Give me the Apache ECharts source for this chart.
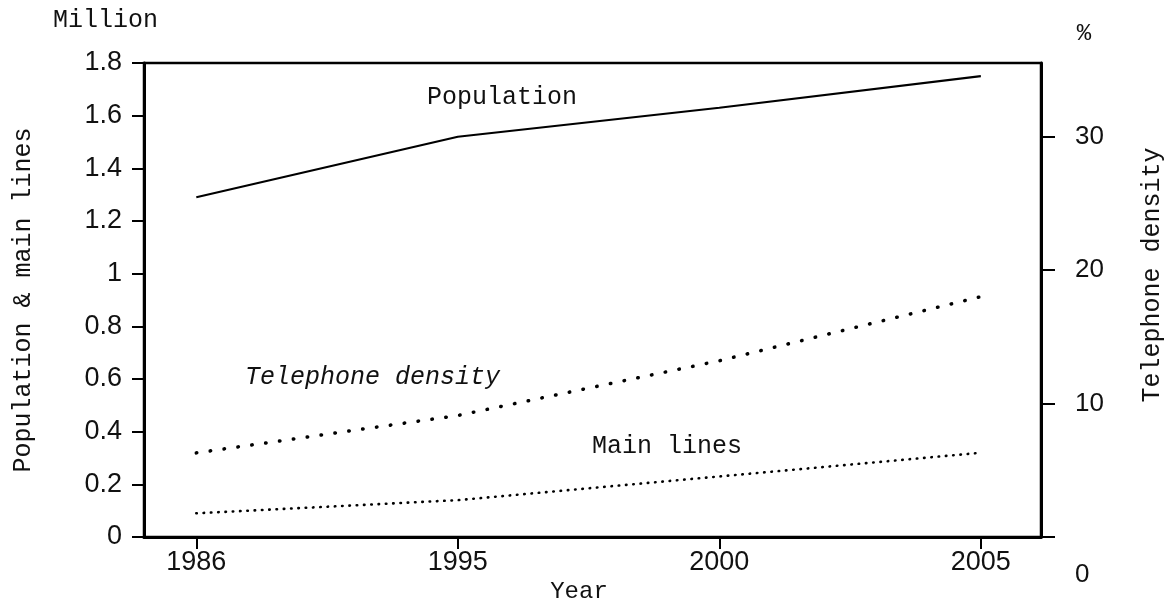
<!DOCTYPE html>
<html><head><meta charset="utf-8">
<script src="https://cdn.jsdelivr.net/npm/echarts@6/dist/echarts.min.js"></script>
<style>html,body{margin:0;padding:0;background:#fff}#c{width:1176px;height:616px}</style>
</head><body><div id="c"></div>
<script>
// ---- data ----
const years = ['1986', '1995', '2000', '2005'];
const population = [1.29, 1.52, 1.63, 1.75];   // million
const mainLines = [0.09, 0.14, 0.23, 0.32];    // million
const density = [6.3, 9.1, 13.2, 18.0];        // %
const leftTicks = [0, 0.2, 0.4, 0.6, 0.8, 1, 1.2, 1.4, 1.6, 1.8];
const rightTicks = [0, 10, 20, 30];

const pts = arr => arr.map((v, i) => [i, v]);
const mono = "'Liberation Mono', 'DejaVu Sans Mono', monospace";
const narrow = "'Liberation Sans Narrow', 'Liberation Sans', Arial, sans-serif";
const sans = "'Liberation Sans', Arial, sans-serif";

const chart = echarts.init(document.getElementById('c'), null, {renderer: 'canvas'});
chart.setOption({
  backgroundColor: '#ffffff',
  animation: false,
  grid: {left: 144, right: 135, top: 63, bottom: 79, show: true, borderColor: '#000', borderWidth: 2.5, backgroundColor: 'transparent'},
  xAxis: {
    type: 'value', min: -0.2, max: 3.23,
    splitLine: {show: false},
    axisLine: {show: true, onZero: false, lineStyle: {color: '#000', width: 3}},
    axisTick: {show: true, customValues: years.map((y, i) => i), length: 12, lineStyle: {color: '#000', width: 2}},
    axisLabel: {customValues: years.map((y, i) => i), formatter: v => years[Math.round(v)] || '', margin: 12,
      fontFamily: narrow, fontSize: 27, color: '#111'}
  },
  yAxis: [{
    type: 'value', min: 0, max: 1.8, position: 'left',
    splitLine: {show: false},
    axisLine: {show: true, onZero: false, lineStyle: {color: '#000', width: 3}},
    axisTick: {show: true, customValues: leftTicks, length: 12, lineStyle: {color: '#000', width: 2}},
    axisLabel: {customValues: leftTicks, margin: 22, fontFamily: narrow, fontSize: 27, color: '#111',
      formatter: v => String(Math.round(v * 10) / 10)}
  }, {
    type: 'value', min: 0, max: 35.5, position: 'right',
    splitLine: {show: false},
    axisLine: {show: true, onZero: false, lineStyle: {color: '#000', width: 3}},
    axisTick: {show: true, customValues: rightTicks, length: 14, lineStyle: {color: '#000', width: 2}},
    axisLabel: {customValues: rightTicks, margin: 34, fontFamily: sans, fontSize: 26, color: '#111',
      formatter: v => v === 0 ? '{z|0}' : String(v),
      rich: {z: {padding: [76, 0, 0, 0], fontFamily: sans, fontSize: 26, color: '#111'}}}
  }],
  series: [{
    name: 'Population', type: 'line', yAxisIndex: 0, data: pts(population),
    symbol: 'none', lineStyle: {color: '#000', width: 2.2}
  }, {
    name: 'Telephone density', type: 'line', yAxisIndex: 1, data: pts(density),
    symbol: 'none', lineStyle: {color: '#000', width: 3.5, type: [0.5, 13.5], cap: 'round'}
  }, {
    name: 'Main lines', type: 'line', yAxisIndex: 0, data: pts(mainLines),
    symbol: 'none', lineStyle: {color: '#000', width: 2.6, type: [0.5, 6.8], cap: 'round'}
  }],
  graphic: [
    {type: 'text', left: 53, top: 8, style: {text: 'Million', font: '25px ' + mono, fill: '#111'}},
    {type: 'text', x: 1084, y: 34, style: {text: '%', font: '24px ' + mono, fill: '#111', align: 'center', verticalAlign: 'middle'}},
    {type: 'text', x: 23, y: 300, rotation: Math.PI / 2, style: {text: 'Population & main lines', font: '25px ' + mono, fill: '#111', align: 'center', verticalAlign: 'middle'}},
    {type: 'text', x: 1152, y: 275, rotation: Math.PI / 2, style: {text: 'Telephone density', font: '25px ' + mono, fill: '#111', align: 'center', verticalAlign: 'middle'}},
    {type: 'text', x: 579, y: 592, style: {text: 'Year', font: '24px ' + mono, fill: '#111', align: 'center', verticalAlign: 'middle'}},
    {type: 'text', x: 427, y: 97, style: {text: 'Population', font: '25px ' + mono, fill: '#111', align: 'left', verticalAlign: 'middle'}},
    {type: 'text', x: 245, y: 377, style: {text: 'Telephone density', font: 'italic 25px ' + mono, fill: '#111', align: 'left', verticalAlign: 'middle'}},
    {type: 'text', x: 592, y: 446, style: {text: 'Main lines', font: '25px ' + mono, fill: '#111', align: 'left', verticalAlign: 'middle'}}
  ]
});
</script>
</body></html>
